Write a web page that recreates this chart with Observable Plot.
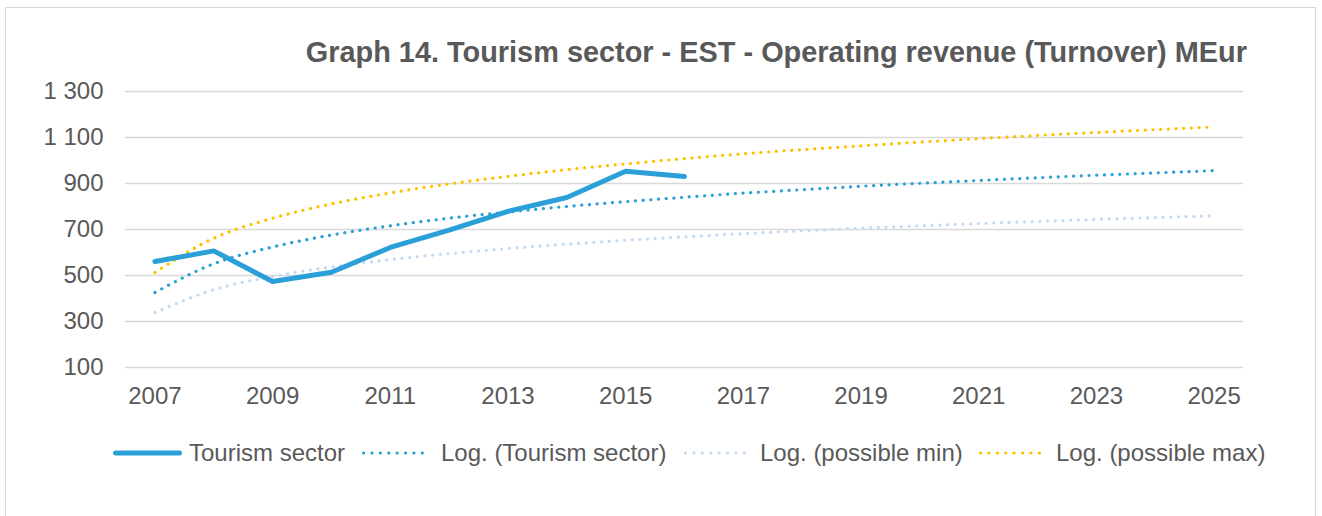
<!DOCTYPE html>
<html>
<head>
<meta charset="utf-8">
<script src="https://cdn.jsdelivr.net/npm/d3@7"></script>
<script src="https://cdn.jsdelivr.net/npm/@observablehq/plot@0.6"></script>
<style>
  html, body { margin: 0; padding: 0; background: #fff; }
  #wrap { position: relative; width: 1322px; height: 516px; overflow: hidden; font-family: "Liberation Sans", Arial, sans-serif; }
  #frame { position: absolute; left: 5px; top: 7px; width: 1311px; height: 520px; border: 1.5px solid #d9d9d9; box-sizing: border-box; }
  #title { position: absolute; right: 75px; top: 38px; font-size: 28.9px; font-weight: bold; color: #595959; white-space: nowrap; line-height: 1; }
  #chart { position: absolute; left: 0; top: 0; }
  #legend { position: absolute; left: 0; top: 438px; width: 1322px; height: 30px; font-size: 24px; color: #595959; white-space: nowrap; }
  #legend svg, #legend span { position: absolute; top: 0; }
  #legend span { line-height: 30px; }
  #legend svg { top: 9px; }
</style>
</head>
<body>
<div id="wrap">
  <div id="frame"></div>
  <div id="chart"></div>
  <div id="title">Graph 14. Tourism sector - EST - Operating revenue (Turnover) MEur</div>
  <div id="legend"></div>
</div>
<script>
const years = ["2007","2008","2009","2010","2011","2012","2013","2014","2015","2016","2017","2018","2019","2020","2021","2022","2023","2024","2025"];
const tickYears = ["2007","2009","2011","2013","2015","2017","2019","2021","2023","2025"];
const yTicks = [100, 300, 500, 700, 900, 1100, 1300];

const tourism = [561, 607, 474, 514, 622, 697, 779, 839, 953, 930];
const logTourism = [426, 551, 624, 676, 716, 749, 776, 800, 821, 840, 858, 873, 888, 901, 913, 925, 936, 946, 956];
const logMin = [339, 438, 496, 537, 569, 595, 617, 636, 653, 668, 682, 694, 706, 716, 726, 735, 744, 752, 760];
const logMax = [513, 662, 749, 811, 859, 898, 931, 960, 985, 1008, 1029, 1047, 1064, 1080, 1095, 1109, 1122, 1134, 1146];

const seriesNames = ["Tourism sector", "Log. (Tourism sector)", "Log. (possible min)", "Log. (possible max)"];
const colors = {main: "#2a9fd8", trend: "#2a9fd8", min: "#c6dbf0", max: "#ffc000"};

const mainData = tourism.map((v, i) => ({year: years[i], value: v}));
const trendData = logTourism.map((v, i) => ({year: years[i], value: v}));
const minData = logMin.map((v, i) => ({year: years[i], value: v}));
const maxData = logMax.map((v, i) => ({year: years[i], value: v}));

const dotted = {strokeWidth: 3.2, strokeDasharray: "0.1 7.6", strokeLinecap: "round", curve: "monotone-x"};

const chart = Plot.plot({
  width: 1322,
  height: 420,
  marginLeft: 125,
  marginRight: 79,
  marginTop: 91,
  marginBottom: 53,
  style: {fontFamily: "'Liberation Sans', Arial, sans-serif", fontSize: "24px", color: "#595959", background: "transparent"},
  x: {type: "point", domain: years, padding: 0.5, round: false, label: null, ticks: tickYears, tickSize: 0, tickPadding: 19},
  y: {domain: [100, 1300], ticks: yTicks, label: null, tickSize: 0, tickPadding: 22,
      tickFormat: d => d3.format(",")(d).replace(/,/g, " ")},
  marks: [
    Plot.ruleY(yTicks, {stroke: "#d9d9d9", strokeWidth: 1.3}),
    Plot.line(minData, {x: "year", y: "value", stroke: colors.min, ...dotted}),
    Plot.line(maxData, {x: "year", y: "value", stroke: colors.max, ...dotted}),
    Plot.line(trendData, {x: "year", y: "value", stroke: colors.trend, ...dotted}),
    Plot.line(mainData, {x: "year", y: "value", stroke: colors.main, strokeWidth: 5, strokeLinejoin: "round", strokeLinecap: "round"})
  ]
});
document.getElementById("chart").appendChild(chart);

// legend layout (swatch left, text left) in page pixels
const legendLayout = [[113, 189], [360.5, 441], [682.5, 760], [977.5, 1056]];
const legendStyles = [
  {color: colors.main, width: 5, dash: null},
  {color: colors.trend, width: 3.2, dash: "0.1 8.3"},
  {color: colors.min, width: 3.2, dash: "0.1 8.3"},
  {color: colors.max, width: 3.2, dash: "0.1 8.3"}
];
const legend = document.getElementById("legend");
seriesNames.forEach((name, i) => {
  const s = legendStyles[i];
  const [sx, tx] = legendLayout[i];
  const sw = d3.create("svg").attr("width", 72).attr("height", 12).style("left", sx + "px");
  const x2 = s.dash ? 69.6 : 66.5;
  sw.append("line").attr("x1", 2.5).attr("x2", x2).attr("y1", 6).attr("y2", 6)
    .attr("stroke", s.color).attr("stroke-width", s.width).attr("stroke-linecap", "round")
    .attr("stroke-dasharray", s.dash);
  legend.appendChild(sw.node());
  const t = document.createElement("span");
  t.textContent = name;
  t.style.left = tx + "px";
  legend.appendChild(t);
});
</script>
</body>
</html>
